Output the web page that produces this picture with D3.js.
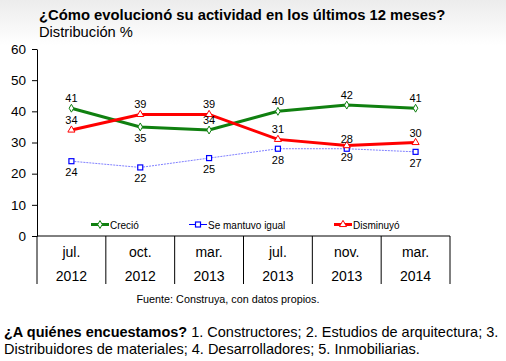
<html>
<head>
  <script src="https://d3js.org/d3.v7.min.js"></script>
  <style>
    body { margin: 0; background: #fff; }
    svg text { font-family: "Liberation Sans", Arial, sans-serif; fill: #000; }
    .axis text { font-size: 13.5px; }
    .axis .domain, .axis line { stroke: #000; }
  </style>
</head>
<body>
<svg id="chart" width="506" height="361"></svg>
<script>
  // data
  const months = ["jul.", "oct.", "mar.", "jul.", "nov.", "mar."];
  const years = ["2012", "2012", "2013", "2013", "2013", "2014"];
  const crecio = [41, 35, 34, 40, 42, 41];
  const igual = [24, 22, 25, 28, 28, 27];
  const disminuyo = [34, 39, 39, 31, 29, 30];
  const yTicks = [0, 10, 20, 30, 40, 50, 60];

  // where each value label sits: -1 above, 1 below
  const crecioPos = [-1, 1, -1, -1, -1, -1];
  const igualPos = [1, 1, 1, 1, -1, 1];
  const disminuyoPos = [-1, -1, -1, -1, 1, -1];

  const series = [
    {name: "Creció", values: crecio, pos: crecioPos, color: "#108010", width: 3, shape: "diamond", legendX: 91},
    {name: "Se mantuvo igual", values: igual, pos: igualPos, color: "#0000ff", width: 1, shape: "square", legendX: 189},
    {name: "Disminuyó", values: disminuyo, pos: disminuyoPos, color: "#ff0000", width: 3, shape: "triangle", legendX: 334}
  ];

  const svg = d3.select("svg#chart");

  // light grey fade at the top
  let defs = svg.append("defs");
  let grad = defs.append("linearGradient").attr("id", "bg").attr("x1", 0).attr("y1", 0).attr("x2", 0).attr("y2", 1);
  grad.append("stop").attr("offset", "0%").attr("stop-color", "#ececec");
  grad.append("stop").attr("offset", "100%").attr("stop-color", "#ffffff");
  svg.append("rect").attr("width", 506).attr("height", 45).attr("fill", "url(#bg)");

  const plotLeft = 37, plotRight = 450, plotTop = 49, plotBottom = 236;

  const x = d3.scaleBand().domain(d3.range(months.length)).range([plotLeft, plotRight]);
  const y = d3.scaleLinear().domain([0, 60]).range([plotBottom, plotTop]);

  // titles
  svg.append("text").attr("x", 39).attr("y", 20)
     .style("font-size", "14.8px").style("font-weight", "bold")
     .text("¿Cómo evolucionó su actividad en los últimos 12 meses?");
  svg.append("text").attr("x", 39).attr("y", 37)
     .style("font-size", "14.7px")
     .text("Distribución %");

  // y axis
  svg.append("g").attr("class", "axis")
     .attr("transform", "translate(" + plotLeft + ",0)")
     .call(d3.axisLeft(y).tickValues(yTicks).tickSize(5).tickSizeOuter(0).tickPadding(6));

  // category axis with boxes
  let xg = svg.append("g").attr("class", "xaxis");
  xg.append("line").attr("x1", plotLeft).attr("x2", plotRight).attr("y1", plotBottom).attr("y2", plotBottom).attr("stroke", "#000");
  x.domain().concat([months.length]).forEach(i => {
    let xx = i < months.length ? x(i) : x(months.length - 1) + x.bandwidth();
    xg.append("line").attr("x1", xx).attr("x2", xx).attr("y1", plotBottom).attr("y2", 284).attr("stroke", "#000");
  });
  months.forEach((m, i) => {
    xg.append("text").attr("x", x(i) + x.bandwidth() / 2).attr("y", 256.5)
      .attr("text-anchor", "middle").style("font-size", "14px").text(m);
    xg.append("text").attr("x", x(i) + x.bandwidth() / 2).attr("y", 281)
      .attr("text-anchor", "middle").style("font-size", "14px").text(years[i]);
  });

  const cx = i => x(i) + x.bandwidth() / 2;

  function marker(g, shape, color, px, py) {
    if (shape === "diamond") {
      g.append("path").attr("d", d3.symbol(d3.symbolDiamond, 18)())
       .attr("transform", "translate(" + px + "," + py + ")")
       .attr("fill", "#fff").attr("stroke", color).attr("stroke-width", 1);
    } else if (shape === "square") {
      g.append("rect").attr("x", px - 2.5).attr("y", py - 2.5).attr("width", 5).attr("height", 5)
       .attr("fill", "#fff").attr("stroke", color).attr("stroke-width", 1.2);
    } else {
      g.append("path").attr("d", d3.symbol(d3.symbolTriangle, 22)())
       .attr("transform", "translate(" + px + "," + py + ")")
       .attr("fill", "#fff").attr("stroke", color).attr("stroke-width", 1);
    }
  }

  let lines = svg.append("g");
  let line = d3.line().x((d, i) => cx(i)).y(d => y(d));
  // draw order: blue, green, red on top
  [series[1], series[0], series[2]].forEach(s => {
    let g = lines.append("g");
    g.append("path").datum(s.values).attr("d", line)
     .attr("fill", "none")
     .attr("stroke", s.shape === "square" ? "#8080ff" : s.color)
     .attr("stroke-width", s.width)
     .attr("stroke-dasharray", s.shape === "square" ? "2,1" : null);
    s.values.forEach((v, i) => marker(g, s.shape, s.color, cx(i), y(v)));
  });

  // value labels
  let labels = svg.append("g");
  series.forEach(s => {
    s.values.forEach((v, i) => {
      labels.append("text").attr("x", cx(i))
        .attr("y", y(v) + (s.pos[i] < 0 ? -6 : 15))
        .attr("text-anchor", "middle").style("font-size", "11px").text(v);
    });
  });

  // legend
  let legend = svg.append("g");
  series.forEach(s => {
    legend.append("line").attr("x1", s.legendX).attr("x2", s.legendX + 18)
      .attr("y1", 224.5).attr("y2", 224.5).attr("stroke", s.color).attr("stroke-width", s.width);
    marker(legend, s.shape, s.color, s.legendX + 9, 224.5);
    legend.append("text").attr("x", s.legendX + 19).attr("y", 228.5)
      .style("font-size", "10px").text(s.name);
  });

  // footer
  svg.append("text").attr("x", 228).attr("y", 303).attr("text-anchor", "middle")
     .style("font-size", "10.8px").text("Fuente: Construya, con datos propios.");

  let note = svg.append("text").attr("x", 4).attr("y", 337).style("font-size", "14.5px");
  note.append("tspan").style("font-weight", "bold").text("¿A quiénes encuestamos?");
  note.append("tspan").text(" 1. Constructores; 2. Estudios de arquitectura; 3.");
  svg.append("text").attr("x", 4).attr("y", 354).style("font-size", "14.5px")
     .text("Distribuidores de materiales; 4. Desarrolladores; 5. Inmobiliarias.");
</script>
</body>
</html>
